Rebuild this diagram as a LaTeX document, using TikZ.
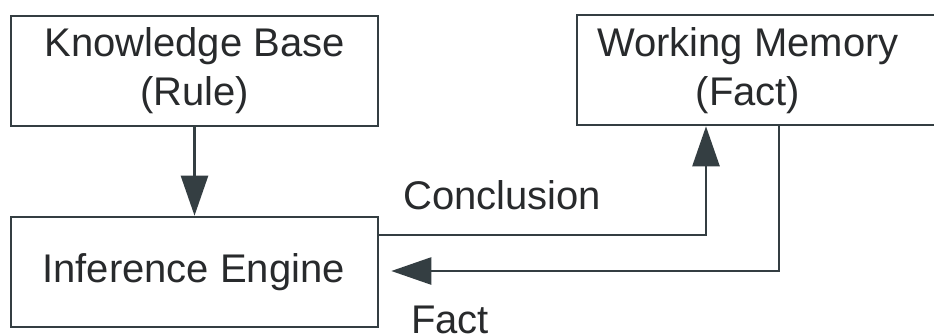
\documentclass[tikz,border=0pt]{standalone}
\usepackage{fontspec}
\setmainfont{Liberation Sans}
\usetikzlibrary{arrows.meta}
\definecolor{linecol}{RGB}{52,62,66}
\definecolor{textcol}{RGB}{40,42,44}
\tikzset{
  box/.style={draw=linecol, line width=2.6pt, inner sep=0pt, fill=white},
  lbl/.style={text=textcol, inner sep=0pt, align=center,
    font=\fontsize{40}{49}\selectfont},
  edgelbl/.style={text=textcol, inner sep=0pt,
    font=\fontsize{40}{49}\selectfont},
  arr/.style={draw=linecol, line width=2.6pt,
    -{Triangle[length=40pt, width=27pt]}}
}
\begin{document}
\begin{tikzpicture}[x=1pt, y=-1pt]
\useasboundingbox (0,0) rectangle (934,335);
\clip (0,0) rectangle (934,335);
\fill[white] (0,0) rectangle (934,335);

% boxes
\node[box, minimum width=367pt, minimum height=110pt] (kb) at (194.5,71) {};
\node[box, minimum width=368pt, minimum height=110pt] (wm) at (761,70) {};
\node[box, minimum width=367pt, minimum height=110pt] (ie) at (194.5,272) {};

% box texts (base anchor sits on the last line)
\node[lbl, anchor=base] (kbt) at (194.5,105) {Knowledge Base\\(Rule)};
\node[lbl, anchor=base] (wmt) at (748,105) {Working Memory\\(Fact)};
\node[lbl, anchor=base] (iet) at (193.5,282) {Inference Engine};

% edge labels
\node[edgelbl, anchor=base west] (concl) at (403,209) {Conclusion};
\node[edgelbl, anchor=base west] (fact) at (411,333) {Fact};

% connectors
\draw[arr] (kb.south) -- (ie.north);
\draw[arr] ([yshift=37pt]ie.east) -| ([xshift=-55pt]wm.south);
\draw[arr] ([xshift=18pt]wm.south) |- ([xshift=12pt, yshift=1pt]ie.east);
\end{tikzpicture}
\end{document}
